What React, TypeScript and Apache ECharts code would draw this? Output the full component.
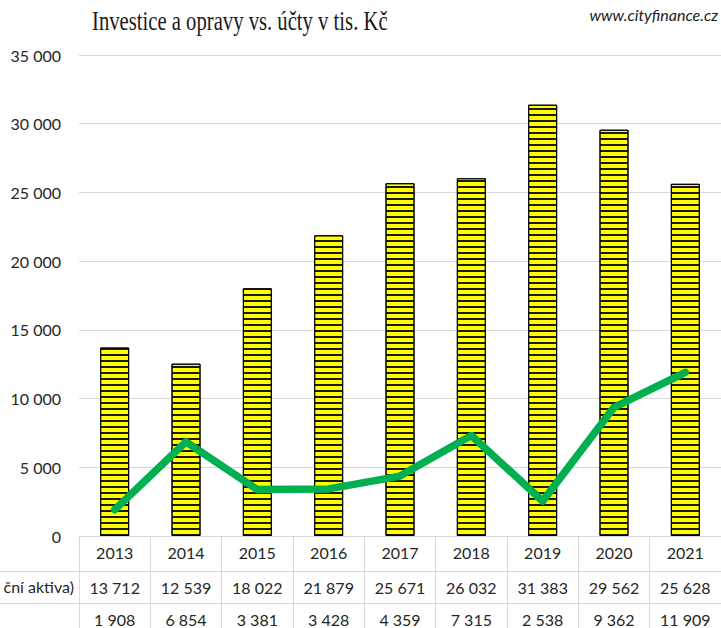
import React, { useEffect, useRef } from "react";
import * as echarts from "echarts";

const years = ["2013", "2014", "2015", "2016", "2017", "2018", "2019", "2020", "2021"];
const investice = [13712, 12539, 18022, 21879, 25671, 26032, 31383, 29562, 25628];
const ucty = [1908, 6854, 3381, 3428, 4359, 7315, 2538, 9362, 11909];
const yMin = 0;
const yMax = 35000;
const yStep = 5000;
const title = "Investice a opravy vs. účty v tis. Kč";
const source = "www.cityfinance.cz";
const rowLabel = "ční aktiva)";

const fmt = (v: number) => String(v).replace(/\B(?=(\d{3})+(?!\d))/g, " ");

const FONT = "Lato";
const TXT = "#262626";
const GRIDC = "#d9d9d9";

export default function App() {
  const ref = useRef<HTMLDivElement>(null);
  useEffect(() => {
    const chart = echarts.init(ref.current!, null, { renderer: "svg" });
    const tableAxis = (data: string[], offset: number) => ({
      type: "category",
      gridIndex: 0,
      position: "bottom",
      offset,
      data,
      axisLine: { show: true, lineStyle: { color: GRIDC, width: 1 } },
      axisTick: { show: false },
      axisLabel: { interval: 0, margin: 8, fontFamily: FONT, fontSize: 16, color: TXT },
      splitLine: { show: false },
    });
    chart.setOption({
      animation: false,
      backgroundColor: "#fff",
      grid: { left: 79, right: 0, top: 55, bottom: 92, containLabel: false },
      xAxis: [
        {
          type: "category",
          data: years,
          position: "bottom",
          axisLine: { show: true, lineStyle: { color: GRIDC, width: 1 } },
          axisTick: { show: true, inside: false, length: 92, lineStyle: { color: GRIDC, width: 1 } },
          axisLabel: { interval: 0, margin: 8, fontFamily: FONT, fontSize: 16, color: TXT },
          splitLine: { show: false },
        },
        tableAxis(investice.map(fmt), 35),
        tableAxis(ucty.map(fmt), 67),
      ],
      yAxis: {
        type: "value",
        min: yMin,
        max: yMax,
        interval: yStep,
        axisLine: { show: false },
        axisTick: { show: false },
        axisLabel: {
          margin: 18,
          fontFamily: FONT,
          fontSize: 16,
          color: TXT,
          formatter: (v: number) => fmt(v),
        },
        splitLine: { lineStyle: { color: GRIDC, width: 1 } },
      },
      series: [
        {
          type: "bar",
          data: investice,
          barWidth: 29,
          itemStyle: {
            color: "#ffff00",
            borderColor: "#000",
            borderWidth: 1,
            decal: {
              symbol: "rect",
              symbolSize: 1,
              dashArrayX: [1, 0],
              dashArrayY: [1.6, 3.7],
              color: "#1a1a1a",
              rotation: 0,
            },
          },
          z: 2,
        },
        {
          type: "line",
          data: ucty,
          symbol: "none",
          lineStyle: { color: "#00b050", width: 7.5, join: "round", cap: "round" },
          z: 5,
        },
      ],
      graphic: [
        {
          type: "text",
          x: 92,
          y: 8,
          scaleX: 0.766,
          style: {
            text: title,
            font: "27px 'Liberation Serif'",
            fill: "#1a1a1a",
            textVerticalAlign: "top",
          },
        },
        {
          type: "text",
          x: 718,
          y: 6,
          style: {
            text: source,
            font: "italic 16px Lato",
            fill: "#1a1a1a",
            textAlign: "right",
          },
        },
        {
          type: "text",
          x: 74,
          y: 578,
          style: {
            text: rowLabel,
            font: "16px Lato",
            fill: TXT,
            textAlign: "right",
          },
        },
        { type: "line", shape: { x1: 0, y1: 571.5, x2: 79, y2: 571.5 }, style: { stroke: GRIDC, lineWidth: 1 } },
        { type: "line", shape: { x1: 0, y1: 603.5, x2: 79, y2: 603.5 }, style: { stroke: GRIDC, lineWidth: 1 } },
      ],
    });
    return () => chart.dispose();
  }, []);
  return (
    <div style={{ position: "fixed", left: 0, top: 0, width: 721, height: 628, overflow: "hidden" }}>
      <div ref={ref} style={{ width: 721, height: 628 }} />
    </div>
  );
}
